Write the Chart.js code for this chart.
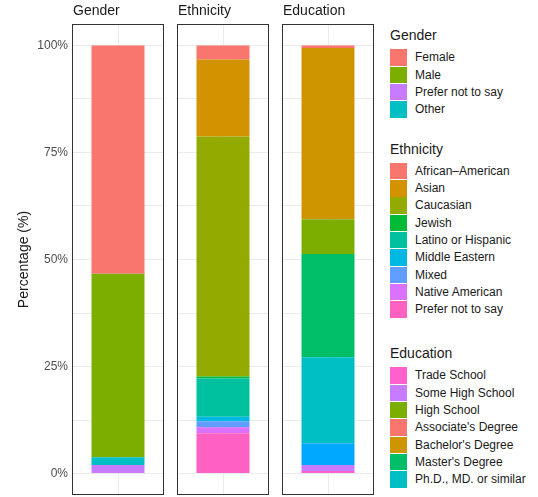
<!DOCTYPE html>
<html>
<head>
<meta charset="utf-8">
<script src="https://cdn.jsdelivr.net/npm/chart.js@4.4.1/dist/chart.umd.min.js"></script>
<style>
  html, body { margin: 0; padding: 0; background: #fff; }
  body { width: 538px; height: 497px; position: relative; overflow: hidden;
         font-family: "Liberation Sans", Arial, sans-serif; }
  canvas { position: absolute; top: 0; }
  .lg-title { position: absolute; left: 390px; font-size: 14px; color: #1a1a1a; line-height: 16px; }
  .lg-key { position: absolute; left: 390px; width: 17px; height: 16.6px; }
  .lg-text { position: absolute; left: 415px; font-size: 12px; color: #1a1a1a; line-height: 14px; white-space: nowrap; }
</style>
</head>
<body>
<canvas id="pGender" width="166" height="497" style="left:0px"></canvas>
<canvas id="pEthnicity" width="94" height="497" style="left:177px"></canvas>
<canvas id="pEducation" width="94" height="497" style="left:282px"></canvas>
<div id="legend"></div>
<script>
// stack order: bottom -> top
const genderCats = ['Prefer not to say', 'Other', 'Male', 'Female'];
const genderVals = [2.0, 1.8, 42.9, 53.3];

const ethnicityCats = ['Prefer not to say', 'Native American', 'Mixed', 'Middle Eastern',
  'Latino or Hispanic', 'Jewish', 'Caucasian', 'Asian', 'African\u2013American'];
const ethnicityVals = [9.4, 1.4, 1.4, 1.1, 8.9, 0.5, 56.0, 18.0, 3.3];

const educationCats = ['Trade School', 'Some High School', 'Other', 'Ph.D., MD. or similar',
  "Master's Degree", 'High School', "Bachelor's Degree", "Associate's Degree"];
const educationVals = [0.6, 1.4, 5.1, 20.1, 24.1, 8.1, 40.0, 0.6];

// legend order as shown
const genderLegend = ['Female', 'Male', 'Prefer not to say', 'Other'];
const ethnicityLegend = ['African\u2013American', 'Asian', 'Caucasian', 'Jewish', 'Latino or Hispanic',
  'Middle Eastern', 'Mixed', 'Native American', 'Prefer not to say'];
const educationLegend = ['Trade School', 'Some High School', 'High School', "Associate's Degree",
  "Bachelor's Degree", "Master's Degree", 'Ph.D., MD. or similar'];

const yTicks = [0, 12.5, 25, 37.5, 50, 62.5, 75, 87.5, 100];

const genderColors = {
  'Female': '#F8766D', 'Male': '#7CAE00', 'Prefer not to say': '#C77CFF', 'Other': '#00BFC4'
};
const ethnicityColors = {
  'African\u2013American': '#F8766D', 'Asian': '#D39200', 'Caucasian': '#93AA00', 'Jewish': '#00BA38',
  'Latino or Hispanic': '#00C19F', 'Middle Eastern': '#00B9E3', 'Mixed': '#619CFF',
  'Native American': '#DB72FB', 'Prefer not to say': '#FF61C3'
};
const educationColors = {
  "Associate's Degree": '#F8766D', "Bachelor's Degree": '#CD9600', 'High School': '#7CAE00',
  "Master's Degree": '#00BE67', 'Ph.D., MD. or similar': '#00BFC4', 'Other': '#00A9FF',
  'Some High School': '#C77CFF', 'Trade School': '#FF61CC'
};

const FONT = '"Liberation Sans", Arial, sans-serif';

// panel border + strip label, ggplot style
const panelFrame = {
  id: 'panelFrame',
  afterDraw(chart, args, opts) {
    const { ctx, chartArea: a } = chart;
    ctx.save();
    ctx.strokeStyle = '#333333';
    ctx.lineWidth = 1;
    ctx.strokeRect(Math.round(a.left) + 0.5, Math.round(a.top) + 0.5,
      Math.round(a.right - a.left) - 1, Math.round(a.bottom - a.top) - 1);
    ctx.fillStyle = '#1a1a1a';
    ctx.font = '14px ' + FONT;
    ctx.textBaseline = 'alphabetic';
    ctx.textAlign = 'left';
    ctx.fillText(opts.label, a.left + 1, 15);
    ctx.restore();
  }
};

function makePanel(id, label, cats, vals, colors, withAxis) {
  new Chart(document.getElementById(id), {
    type: 'bar',
    data: {
      labels: [label],
      datasets: cats.map((c, i) => ({
        label: c,
        data: [vals[i]],
        backgroundColor: colors[c],
        borderWidth: 0,
        categoryPercentage: 1,
        barPercentage: 0.576
      }))
    },
    options: {
      responsive: false,
      animation: false,
      layout: { padding: { top: 24, bottom: 2, left: 0, right: 2 } },
      plugins: {
        legend: { display: false },
        tooltip: { enabled: false },
        panelFrame: { label }
      },
      scales: {
        x: {
          stacked: true,
          afterFit: s => { s.height = 0; s.paddingLeft = 0; s.paddingRight = 0; },
          grid: { offset: false, color: '#EBEBEB', drawTicks: false },
          border: { display: false },
          ticks: { display: false }
        },
        y: {
          stacked: true,
          min: -5,
          max: 105,
          afterBuildTicks: s => { s.ticks = yTicks.map(v => ({ value: v })); },
          afterFit: s => { s.width = withAxis ? 72 : 0; s.paddingTop = 0; s.paddingBottom = 0; },
          grid: { color: '#EBEBEB', drawTicks: false },
          border: { display: false },
          ticks: {
            display: withAxis,
            padding: 4,
            color: '#4D4D4D',
            font: { family: FONT, size: 12 },
            callback: v => (v % 25 === 0 ? v + '%' : '')
          },
          title: {
            display: withAxis,
            text: 'Percentage (%)',
            color: '#1a1a1a',
            font: { family: FONT, size: 14 },
            padding: { top: 16, bottom: 0 }
          }
        }
      }
    },
    plugins: [panelFrame]
  });
}

makePanel('pGender', 'Gender', genderCats, genderVals, genderColors, true);
makePanel('pEthnicity', 'Ethnicity', ethnicityCats, ethnicityVals, ethnicityColors, false);
makePanel('pEducation', 'Education', educationCats, educationVals, educationColors, false);

// legend (html, built from the arrays)
const legendEl = document.getElementById('legend');
const STEP = 17.3;
function addLegend(title, items, colors, titleMid, firstTop) {
  const t = document.createElement('div');
  t.className = 'lg-title';
  t.textContent = title;
  t.style.top = (titleMid - 8) + 'px';
  legendEl.appendChild(t);
  items.forEach((name, i) => {
    const top = firstTop + i * STEP;
    const k = document.createElement('div');
    k.className = 'lg-key';
    k.style.top = top + 'px';
    k.style.background = colors[name];
    legendEl.appendChild(k);
    const tx = document.createElement('div');
    tx.className = 'lg-text';
    tx.textContent = name;
    tx.style.top = (top + STEP / 2 - 7.5) + 'px';
    legendEl.appendChild(tx);
  });
}
addLegend('Gender', genderLegend, genderColors, 35, 49.3);
addLegend('Ethnicity', ethnicityLegend, ethnicityColors, 149, 162.7);
addLegend('Education', educationLegend, educationColors, 353.3, 367.3);
</script>
</body>
</html>
